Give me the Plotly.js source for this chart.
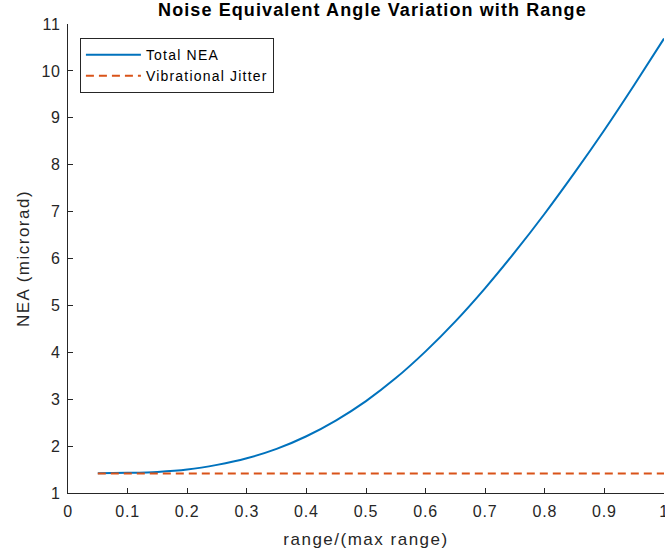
<!DOCTYPE html>
<html>
<head>
<meta charset="utf-8">
<script src="https://cdn.plot.ly/plotly-3.0.1.min.js"></script>
<style>
  html, body { margin: 0; padding: 0; background: #fff; }
  #chart { width: 665px; height: 558px; }
  /* slightly open letter spacing, Helvetica-like */
  #chart svg .xtick text, #chart svg .ytick text { letter-spacing: 0.8px; }
  #chart svg .gtitle { letter-spacing: 1.1px; }
  #chart svg .xtitle, #chart svg .ytitle { letter-spacing: 1.5px; }
  /* global so the legend box is sized with the same spacing */
  .legendtext { letter-spacing: 1.2px; }
</style>
</head>
<body>
<div id="chart"></div>
<script>
// Normalised range (range / max range)
const rangeRatio = [0.05, 0.10, 0.15, 0.20, 0.25, 0.30, 0.35, 0.40, 0.45, 0.50,
                    0.55, 0.60, 0.65, 0.70, 0.75, 0.80, 0.85, 0.90, 0.95, 1.00];
// Total noise equivalent angle (microrad)
const totalNEA = [1.42, 1.43, 1.45, 1.50, 1.60, 1.74, 1.94, 2.21, 2.55, 2.96,
                  3.45, 4.02, 4.66, 5.37, 6.14, 6.96, 7.83, 8.74, 9.70, 10.69];
// Vibrational jitter floor (microrad), constant over range
const jitterNEA = [1.414, 1.414, 1.414, 1.414, 1.414, 1.414, 1.414, 1.414, 1.414, 1.414,
                   1.414, 1.414, 1.414, 1.414, 1.414, 1.414, 1.414, 1.414, 1.414, 1.414];

const seriesNames = ['Total NEA', 'Vibrational Jitter'];
const xTicks = [0, 0.1, 0.2, 0.3, 0.4, 0.5, 0.6, 0.7, 0.8, 0.9, 1];
const yTicks = [1, 2, 3, 4, 5, 6, 7, 8, 9, 10, 11];

const FONT = 'Liberation Sans, Arial, Helvetica, sans-serif';
const INK = '#262626';

const traces = [
  {
    x: rangeRatio, y: totalNEA, name: seriesNames[0],
    type: 'scatter', mode: 'lines',
    line: { color: '#0072BD', width: 2, shape: 'spline', smoothing: 0.8 }
  },
  {
    x: rangeRatio, y: jitterNEA, name: seriesNames[1],
    type: 'scatter', mode: 'lines',
    line: { color: '#D95319', width: 2, dash: '8px,5px' }
  }
];

const axisCommon = {
  showgrid: false, zeroline: false,
  showline: true, linecolor: INK, linewidth: 1,
  ticks: 'inside', ticklen: 5, tickwidth: 1, tickcolor: INK,
  tickfont: { family: FONT, size: 16, color: INK },
  ticklabeloverflow: 'allow',
  mirror: false
};

const layout = {
  width: 665, height: 558,
  margin: { l: 68, r: 1, t: 24, b: 65 },
  paper_bgcolor: '#ffffff', plot_bgcolor: '#ffffff',
  font: { family: FONT, color: INK },
  title: {
    text: '<b>Noise Equivalent Angle Variation with Range</b>',
    font: { family: FONT, size: 18, color: '#000' },
    x: 0.56, xanchor: 'center', y: 0.983, yanchor: 'middle'
  },
  xaxis: Object.assign({}, axisCommon, {
    range: [0, 1], tickvals: xTicks, ticktext: xTicks.map(String),
    ticklabelstandoff: 4,
    title: { text: 'range/(max range)', font: { family: FONT, size: 17, color: INK }, standoff: 13 }
  }),
  yaxis: Object.assign({}, axisCommon, {
    range: [1, 11], tickvals: yTicks, ticktext: yTicks.map(String),
    ticklabelstandoff: 3,
    title: { text: 'NEA (microrad)', font: { family: FONT, size: 17, color: INK }, standoff: 9 }
  }),
  showlegend: true,
  legend: {
    x: 0.02, y: 0.97, xanchor: 'left', yanchor: 'top',
    bgcolor: '#ffffff', bordercolor: INK, borderwidth: 1,
    font: { family: FONT, size: 14, color: '#000' },
    itemwidth: 55, tracegroupgap: 0
  }
};

Plotly.newPlot('chart', traces, layout, { staticPlot: true, displayModeBar: false });
</script>
</body>
</html>
